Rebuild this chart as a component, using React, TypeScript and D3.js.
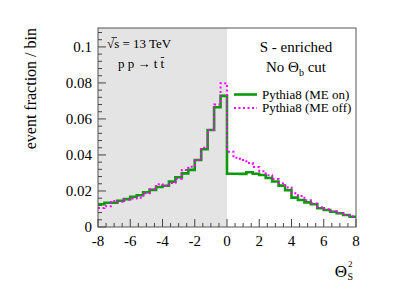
import * as d3 from 'd3'

// lower edges of the 0.4-wide bins
const BIN_LOW = [
  -8, -7.6, -7.2, -6.8, -6.4, -6, -5.6, -5.2, -4.8, -4.4,
  -4, -3.6, -3.2, -2.8, -2.4, -2, -1.6, -1.2, -0.8, -0.4,
  0, 0.4, 0.8, 1.2, 1.6, 2, 2.4, 2.8, 3.2, 3.6,
  4, 4.4, 4.8, 5.2, 5.6, 6, 6.4, 6.8, 7.2, 7.6,
]
const BIN_WIDTH = 0.4

// Pythia8 (ME on)
const ME_ON = [
  0.0126, 0.0135, 0.0135, 0.0146, 0.0155, 0.0168, 0.0176, 0.0193, 0.0206, 0.0222,
  0.0229, 0.0252, 0.0276, 0.0298, 0.0317, 0.0372, 0.0432, 0.0539, 0.0665, 0.0728,
  0.0296, 0.0296, 0.0295, 0.0304, 0.0296, 0.0289, 0.0272, 0.0253, 0.023, 0.0204,
  0.0163, 0.015, 0.0137, 0.0126, 0.0104, 0.0094, 0.0085, 0.0076, 0.0067, 0.0057,
]

// Pythia8 (ME off)
const ME_OFF = [
  0.0105, 0.0115, 0.0145, 0.014, 0.0152, 0.0158, 0.0163, 0.0188, 0.021, 0.0238,
  0.0228, 0.0245, 0.0268, 0.0317, 0.0335, 0.0372, 0.044, 0.0539, 0.068, 0.0798,
  0.0418, 0.0385, 0.0372, 0.0355, 0.0333, 0.031, 0.0288, 0.0266, 0.0243, 0.022,
  0.0187, 0.0172, 0.0148, 0.013, 0.011, 0.0098, 0.0088, 0.0076, 0.0066, 0.0058,
]

const X_MAJOR = [-8, -6, -4, -2, 0, 2, 4, 6, 8]
const Y_MAJOR = [0, 0.02, 0.04, 0.06, 0.08, 0.1]
const Y_LABELS = ['0', '0.02', '0.04', '0.06', '0.08', '0.1']

const W = 395
const H = 284
const FONT = '"Liberation Serif", "Times New Roman", serif'
const GREEN = '#0a9a0a'
const MAGENTA = '#ff00ff'

export default function App() {
  const margin = { left: 98, right: 39, top: 28, bottom: 57 }
  const x = d3.scaleLinear().domain([-8, 8]).range([margin.left, W - margin.right])
  const y = d3.scaleLinear().domain([0, 0.1105]).range([H - margin.bottom, margin.top])
  const [x0, x1] = x.range()
  const [yb, yt] = y.range()

  const xMinor = d3.range(-8, 8.001, 0.5).filter(v => !X_MAJOR.includes(v))
  const yMinor = d3.range(0, 0.1105, 0.004).filter(v => Math.abs(v / 0.02 - Math.round(v / 0.02)) > 1e-6)

  const step = d3.line<[number, number]>()
    .x(d => x(d[0]))
    .y(d => y(d[1]))
    .curve(d3.curveStepAfter)

  const pts = (vals: number[]) => {
    const p: [number, number][] = BIN_LOW.map((b, i) => [b, vals[i]])
    p.push([BIN_LOW[BIN_LOW.length - 1] + BIN_WIDTH, vals[vals.length - 1]])
    return p
  }

  return (
    <svg width={W} height={H} style={{ position: 'absolute', left: 0, top: 0, background: '#fff' }}
      fontFamily={FONT}>
      {/* shaded region Θ < 0 */}
      <rect x={x0} y={yt} width={x(0) - x0} height={yb - yt} fill="#e4e4e4" />

      {/* ticks */}
      {X_MAJOR.map(v => (
        <line key={'xM' + v} x1={x(v)} x2={x(v)} y1={yb} y2={yb - 8} stroke="#444" strokeWidth={1} />
      ))}
      {xMinor.map(v => (
        <line key={'xm' + v} x1={x(v)} x2={x(v)} y1={yb} y2={yb - 4} stroke="#444" strokeWidth={1} />
      ))}
      {Y_MAJOR.map(v => (
        <line key={'yM' + v} x1={x0} x2={x0 + 8} y1={y(v)} y2={y(v)} stroke="#444" strokeWidth={1} />
      ))}
      {yMinor.map(v => (
        <line key={'ym' + v} x1={x0} x2={x0 + 4} y1={y(v)} y2={y(v)} stroke="#444" strokeWidth={1} />
      ))}

      {/* histograms */}
      <path d={step(pts(ME_ON)) ?? ''} fill="none" stroke={GREEN} strokeWidth={2.6} />
      <path d={step(pts(ME_OFF)) ?? ''} fill="none" stroke={MAGENTA} strokeWidth={2} strokeDasharray="2 2.5" />

      {/* frame */}
      <rect x={x0} y={yt} width={x1 - x0} height={yb - yt} fill="none" stroke="#555" strokeWidth={1} />

      {/* tick labels */}
      {Y_MAJOR.map((v, i) => (
        <text key={'yl' + v} x={x0 - 6} y={y(v) + 5} textAnchor="end" fontSize={15} fill="#000">{Y_LABELS[i]}</text>
      ))}
      {X_MAJOR.map(v => (
        <text key={'xl' + v} x={x(v)} y={246} textAnchor="middle" fontSize={15} fill="#000">{v}</text>
      ))}

      {/* axis titles */}
      <text transform={`translate(36,${yt}) rotate(-90)`} textAnchor="end" fontSize={16} fill="#000">
        event fraction / bin
      </text>
      <text x={347} y={277} textAnchor="end" fontSize={17} fill="#000">Θ</text>
      <text x={348} y={267} fontSize={9} fill="#000">2</text>
      <text x={347.5} y={280} fontSize={10} fill="#000">S</text>

      {/* annotations */}
      <text x={107} y={48} fontSize={13} fill="#000">√s = 13 TeV</text>
      <line x1={111.5} x2={117} y1={37.5} y2={37.5} stroke="#000" strokeWidth={0.7} />
      <text x={118} y={68} fontSize={13} fill="#000">p p → t</text>
      <text x={160.5} y={68} fontSize={13} fill="#000">t</text>
      <line x1={160.8} x2={164.2} y1={57.5} y2={57.5} stroke="#000" strokeWidth={0.8} />

      <text x={296} y={52} textAnchor="middle" fontSize={15} fill="#000">S - enriched</text>
      <text x={296} y={72} textAnchor="middle" fontSize={15} fill="#000">
        No Θ<tspan fontSize={10} dy={4}>b</tspan><tspan dy={-4}> cut</tspan>
      </text>

      {/* legend */}
      <line x1={234} x2={257} y1={94.5} y2={94.5} stroke={GREEN} strokeWidth={2.6} />
      <text x={262} y={98.5} fontSize={13} fill="#000">Pythia8 (ME on)</text>
      <line x1={234} x2={257} y1={108} y2={108} stroke={MAGENTA} strokeWidth={2} strokeDasharray="2 2.5" />
      <text x={262} y={112} fontSize={13} fill="#000">Pythia8 (ME off)</text>
    </svg>
  )
}
